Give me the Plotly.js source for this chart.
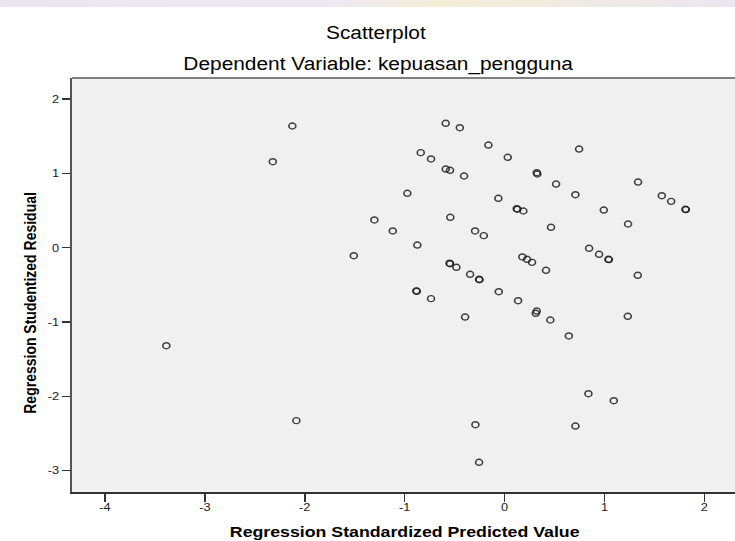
<!DOCTYPE html>
<html>
<head>
<meta charset="utf-8">
<script src="https://cdn.plot.ly/plotly-3.0.1.min.js"></script>
<style>
  html, body { margin: 0; padding: 0; width: 735px; height: 541px; overflow: hidden;
    background: linear-gradient(to right, #ece6f2 0%, #efe9f4 45%, #f4eed6 60%, #ece6f2 100%); }
  #wrap { position: absolute; left: 0; top: 7px; width: 735px; height: 534px; overflow: hidden; background: #fff; }
  #chart { position: absolute; left: 0; top: 0; width: 638px; height: 534px;
    transform: scaleX(1.16); transform-origin: 0 0; }
</style>
</head>
<body>
<div id="wrap"><div id="chart"></div></div>
<script>
// Regression Standardized Predicted Value (x) and Regression Studentized Residual (y)
const predicted = [
  -2.124, -2.320, -1.303, -1.119, -1.509, -3.385, -2.084,
  -0.589, -0.448, -0.162, 0.746, -0.839, -0.736, 0.032,
  -0.589, -0.546, -0.405, 0.322, 0.328, 0.516, -0.973,
  -0.062, 0.709, 1.336, 1.574, 1.667, 1.810, 1.815,
  0.122, 0.128, 0.188, 0.993, -0.543, 1.236, 0.465,
  -0.295, -0.208, -0.873, 0.846, 0.946, 1.039, 1.044,
  -0.546, -0.550, -0.482, 0.178, 0.225, 0.275, 0.415,
  -0.345, -0.255, -0.251, 1.333, -0.879, -0.883, -0.736,
  -0.058, 0.135, 0.322, 0.312, 0.458, -0.395, 1.233,
  0.643, 0.839, 1.093, -0.292, 0.709, -0.255
];
const residual = [
  1.638, 1.157, 0.373, 0.225, -0.108, -1.319, -2.328,
  1.674, 1.615, 1.382, 1.328, 1.279, 1.194, 1.217,
  1.059, 1.042, 0.965, 1.009, 0.992, 0.857, 0.732,
  0.665, 0.713, 0.884, 0.700, 0.624, 0.517, 0.513,
  0.525, 0.518, 0.494, 0.507, 0.409, 0.319, 0.275,
  0.225, 0.162, 0.036, -0.008, -0.089, -0.156, -0.160,
  -0.215, -0.209, -0.264, -0.125, -0.156, -0.197, -0.304,
  -0.358, -0.425, -0.431, -0.371, -0.587, -0.581, -0.686,
  -0.592, -0.713, -0.852, -0.883, -0.973, -0.933, -0.923,
  -1.188, -1.965, -2.059, -2.382, -2.400, -2.888
];
const xTicks = [-4, -3, -2, -1, 0, 1, 2];
const yTicks = [-3, -2, -1, 0, 1, 2];

const titleText = 'Scatterplot';
const subtitleText = 'Dependent Variable: kepuasan_pengguna';
const xTitle = 'Regression Standardized Predicted Value';
const yTitle = 'Regression Studentized Residual';

const font = 'Liberation Sans, Arial, sans-serif';

const trace = {
  type: 'scatter',
  mode: 'markers',
  x: predicted,
  y: residual,
  marker: {
    symbol: 'circle-open',
    size: 6,
    color: 'rgba(30,30,30,0.85)',
    line: { width: 1.4 }
  },
  hoverinfo: 'x+y'
};

const layout = {
  width: 638,
  height: 534,
  margin: { l: 62, r: 0, t: 71, b: 49, pad: 0 },
  paper_bgcolor: '#ffffff',
  plot_bgcolor: '#f0f0f0',
  showlegend: false,
  font: { family: font, color: '#111' },
  xaxis: {
    range: [-4.33, 2.357],
    tickvals: xTicks,
    ticktext: xTicks.map(String),
    ticks: 'outside', ticklen: 8, tickwidth: 1.4, tickcolor: '#333',
    ticklabelstandoff: -4,
    showline: true, linecolor: '#333', linewidth: 1.5,
    showgrid: false, zeroline: false,
    tickfont: { family: font, size: 11, color: '#222' }
  },
  yaxis: {
    range: [-3.288, 2.284],
    tickvals: yTicks,
    ticktext: yTicks.map(String),
    ticks: 'outside', ticklen: 7, tickwidth: 1.5, tickcolor: '#333',
    showline: true, linecolor: '#555', linewidth: 1.8,
    showgrid: false, zeroline: false,
    tickfont: { family: font, size: 11, color: '#222' }
  },
  shapes: [
    { type: 'line', xref: 'paper', yref: 'paper', x0: 0, x1: 1, y0: 1, y1: 1,
      line: { color: '#808080', width: 2 } }
  ],
  annotations: [
    { text: titleText, xref: 'paper', yref: 'paper', x: 0.455, y: 1.1087,
      xanchor: 'center', yanchor: 'middle', showarrow: false,
      font: { family: font, size: 18, color: '#000' } },
    { text: subtitleText, xref: 'paper', yref: 'paper', x: 0.46, y: 1.0338,
      xanchor: 'center', yanchor: 'middle', showarrow: false,
      font: { family: font, size: 18, color: '#000' } },
    { text: '<b>' + xTitle + '</b>', xref: 'paper', yref: 'paper', x: 0.4985, y: -0.0966,
      xanchor: 'center', yanchor: 'middle', showarrow: false,
      font: { family: font, size: 15.3, color: '#000' } },
    { text: '<b>' + yTitle + '</b>', xref: 'paper', yref: 'paper', x: -0.0629, y: 0.4565,
      xanchor: 'center', yanchor: 'middle', showarrow: false, textangle: -90,
      font: { family: font, size: 14, color: '#000' } }
  ]
};

Plotly.newPlot('chart', [trace], layout, { displayModeBar: false, staticPlot: true });
</script>
</body>
</html>
